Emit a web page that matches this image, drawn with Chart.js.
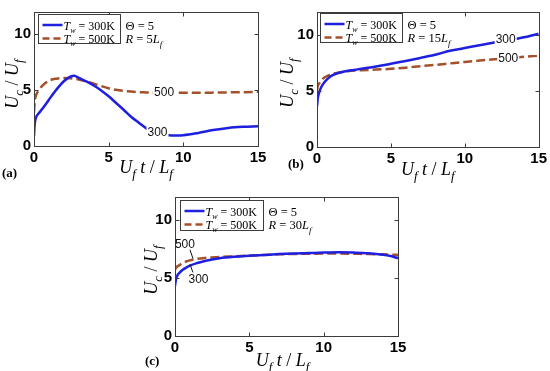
<!DOCTYPE html>
<html><head><meta charset="utf-8">
<script src="https://cdn.jsdelivr.net/npm/chart.js@4"></script>
<style>
html,body{margin:0;padding:0;background:#fff;}
body{width:550px;height:371px;position:relative;overflow:hidden;}
canvas{position:absolute;}
</style></head><body>
<canvas id="ca" width="275" height="185" style="left:0;top:0;width:275px;height:185px"></canvas>
<canvas id="cb" width="275" height="185" style="left:275px;top:0;width:275px;height:185px"></canvas>
<canvas id="cc" width="290" height="186" style="left:130px;top:185px;width:290px;height:186px"></canvas>
<script>
// ---- data ----
const xTicks = [0, 5, 10, 15];
const yTicks = [0, 5, 10];
const seriesNames = ['300K', '500K'];

const xA   = [0,0.05,0.15,0.3,0.6,1,1.5,2,2.4,2.7,3,3.5,4,4.5,5,5.5,6,6.5,7,7.5,8,8.5,9,9.5,10,11,12,13,14,15];
const a300 = [0.9,2.0,2.6,2.9,3.4,4.15,5.05,5.8,6.2,6.3,6.1,5.78,5.42,4.98,4.45,3.85,3.25,2.62,2.1,1.6,1.22,1.05,0.97,0.95,0.97,1.17,1.43,1.62,1.72,1.77];
const a500 = [3.0,4.0,4.6,4.95,5.45,5.85,6.03,6.08,6.07,6.02,5.95,5.78,5.58,5.37,5.17,5.03,4.94,4.87,4.82,4.8,4.78,4.77,4.77,4.77,4.77,4.77,4.78,4.8,4.82,4.85];

const xB   = [0,0.05,0.15,0.3,0.5,0.75,1,1.5,2,2.5,3,4,5,6,7,8,9,10,11,12,13,14,15];
const b300 = [3.6,4.3,4.85,5.35,5.75,6.1,6.35,6.6,6.75,6.85,6.95,7.15,7.4,7.65,7.92,8.2,8.55,8.8,9.05,9.28,9.5,9.75,10.07];
const b500 = [5.0,5.4,5.65,5.95,6.18,6.35,6.48,6.62,6.72,6.8,6.83,6.88,6.95,7.05,7.18,7.3,7.43,7.56,7.68,7.8,7.92,8.02,8.12];

const xC   = [0,0.05,0.15,0.3,0.5,0.75,1,1.5,2,3,4,5,6,7,8,9,10,11,12,13,14,14.5,15];
const c300 = [4.3,4.8,5.2,5.45,5.7,5.9,6.07,6.3,6.48,6.72,6.85,6.93,7.0,7.07,7.12,7.16,7.2,7.22,7.2,7.15,7.02,6.9,6.72];
const c500 = [5.7,5.85,6.0,6.12,6.28,6.43,6.53,6.66,6.74,6.82,6.88,6.95,7.0,7.05,7.08,7.1,7.12,7.12,7.1,7.08,7.05,7.03,7.0];

// ---- styling / helpers ----
const BLUE = '#1f1fe0';
const BROWN = '#a4502a';
const SERIF = "'Liberation Serif','Times New Roman',serif";
const SANS = "'Liberation Sans',Arial,sans-serif";

function rich(ctx, parts, x, y, size, align) {
  const sub = Math.round(size * 0.7);
  const f = p => (p[1].includes('i') ? 'italic ' : '') + (p[1].includes('b') ? 'bold ' : '') + (p[1].includes('s') ? sub : size) + 'px ' + SERIF;
  let w = 0;
  parts.forEach(p => { ctx.font = f(p); w += ctx.measureText(p[0]).width; });
  let cx = align === 'center' ? x - w / 2 : x;
  ctx.textAlign = 'left'; ctx.textBaseline = 'alphabetic'; ctx.fillStyle = '#000';
  parts.forEach(p => {
    ctx.font = f(p);
    ctx.fillText(p[0], cx, y + (p[1].includes('s') ? size * 0.28 : 0));
    cx += ctx.measureText(p[0]).width;
  });
  return w;
}

const decoPlugin = {
  id: 'deco',
  afterDraw(chart, args, o) {
    const ctx = chart.ctx, ca = chart.chartArea, sx = chart.scales.x, sy = chart.scales.y;
    ctx.save();
    const L = Math.round(ca.left) + 0.5, T = Math.round(ca.top) + 0.5, R = Math.round(ca.right) + 0.5, B = Math.round(ca.bottom) + 0.5;
    ctx.strokeStyle = '#3c3c3c'; ctx.lineWidth = 1;
    ctx.strokeRect(L, T, R - L, B - T);
    ctx.beginPath();
    xTicks.forEach(v => { const p = Math.round(sx.getPixelForValue(v)) + 0.5; ctx.moveTo(p, B); ctx.lineTo(p, B - 4); ctx.moveTo(p, T); ctx.lineTo(p, T + 4); });
    yTicks.forEach(v => { const p = Math.round(sy.getPixelForValue(v)) + 0.5; ctx.moveTo(L, p); ctx.lineTo(L + 4, p); ctx.moveTo(R, p); ctx.lineTo(R - 4, p); });
    ctx.stroke();

    // curve labels
    ctx.font = '12px ' + SANS;
    (o.labels || []).forEach(lb => {
      const px = sx.getPixelForValue(lb.x), py = sy.getPixelForValue(lb.y);
      const w = ctx.measureText(lb.t).width;
      if (lb.bg) { ctx.fillStyle = '#fff'; ctx.fillRect(px - w / 2 - 1, py - 6, w + 2, 12); }
      ctx.fillStyle = '#111'; ctx.textAlign = 'center'; ctx.textBaseline = 'middle';
      ctx.fillText(lb.t, px, py);
    });
    (o.leaders || []).forEach(ld => {
      ctx.strokeStyle = '#111'; ctx.lineWidth = 1;
      ctx.beginPath();
      ctx.moveTo(sx.getPixelForValue(ld[0]), sy.getPixelForValue(ld[1]));
      ctx.lineTo(sx.getPixelForValue(ld[2]), sy.getPixelForValue(ld[3]));
      ctx.stroke();
    });

    // legend box
    const lg = o.legend;
    const bx = Math.round(ca.left + lg.dx) + 0.5, by = Math.round(ca.top + lg.dy) + 0.5;
    ctx.fillStyle = '#fff'; ctx.fillRect(bx, by, lg.w, lg.h);
    ctx.strokeStyle = '#3c3c3c'; ctx.lineWidth = 1; ctx.strokeRect(bx, by, lg.w, lg.h);
    const rows = [by + 10.5, by + 24];
    const styles = [{ c: BLUE, d: [] }, { c: BROWN, d: [7, 4] }];
    rows.forEach((ry, i) => {
      ctx.strokeStyle = styles[i].c; ctx.lineWidth = 2.5; ctx.setLineDash(styles[i].d);
      ctx.beginPath(); ctx.moveTo(bx + 4, ry); ctx.lineTo(bx + 24, ry); ctx.stroke();
      ctx.setLineDash([]);
      rich(ctx, [['T', 'i'], ['w', 'is'], [' = ' + seriesNames[i], '']], bx + 25, ry + 4.5, 12, 'left');
    });
    rich(ctx, [['\u0398 = 5', '']], bx + lg.w + 5, rows[0] + 4.5, 12.5, 'left');
    rich(ctx, [['R', 'i'], [' = ' + lg.r, ''], ['L', 'i'], ['f', 'is']], bx + lg.w + 5, rows[1] + 4.5, 12.5, 'left');

    // axis titles
    rich(ctx, [['U', 'i'], ['f', 'is'], [' t', 'i'], [' / ', ''], ['L', 'i'], ['f', 'is']], (ca.left + ca.right) / 2 + o.xtDx, o.xtY, 18, 'center');
    ctx.save();
    ctx.translate(o.ytX, o.ytY);
    ctx.rotate(-Math.PI / 2);
    rich(ctx, [['U', 'i'], ['c', 'is'], [' / ', ''], ['U', 'i'], ['f', 'is']], 0, 0, 18, 'center');
    ctx.restore();

    // panel tag
    rich(ctx, [[o.tag, 'b']], o.tagX, o.tagY, 13, 'left');
    ctx.restore();
  }
};

function makePanel(id, xs, s300, s500, area, deco) {
  const ctx = document.getElementById(id).getContext('2d');
  const W = ctx.canvas.width, H = ctx.canvas.height;
  const YW = 30, XH = 30;
  const tickFont = { family: SANS, weight: 'bold', size: 15 };
  return new Chart(ctx, {
    type: 'line',
    data: {
      datasets: [
        { label: 'Tw = 300K', data: xs.map((x, i) => ({ x, y: s300[i] })), borderColor: BLUE, borderWidth: 2.5, pointRadius: 0, cubicInterpolationMode: 'monotone', fill: false },
        { label: 'Tw = 500K', data: xs.map((x, i) => ({ x, y: s500[i] })), borderColor: BROWN, borderWidth: 2.5, borderDash: [9, 4], pointRadius: 0, cubicInterpolationMode: 'monotone', fill: false }
      ]
    },
    options: {
      responsive: false, animation: false, devicePixelRatio: 1,
      layout: { padding: { left: area.L - YW, top: area.T, right: W - area.R, bottom: H - area.B - XH } },
      plugins: { legend: { display: false }, tooltip: { enabled: false }, deco: deco },
      scales: {
        x: {
          type: 'linear', min: 0, max: 15,
          afterBuildTicks: s => { s.ticks = xTicks.map(v => ({ value: v })); },
          afterFit: s => { s.height = XH; },
          grid: { display: false, drawTicks: false }, border: { display: false },
          ticks: { font: tickFont, color: '#000', padding: 3, maxRotation: 0, autoSkip: false, includeBounds: false }
        },
        y: {
          type: 'linear', min: 0, max: 12,
          afterBuildTicks: s => { s.ticks = yTicks.map(v => ({ value: v })); },
          afterFit: s => { s.width = YW; },
          grid: { display: false, drawTicks: false }, border: { display: false },
          ticks: { font: tickFont, color: '#000', padding: 3, autoSkip: false, includeBounds: false }
        }
      }
    },
    plugins: [decoPlugin]
  });
}

makePanel('ca', xA, a300, a500, { L: 34, T: 2, R: 258, B: 146 }, {
  labels: [{ t: '300', x: 8.27, y: 1.17, bg: true }, { t: '500', x: 8.71, y: 4.75, bg: true }],
  legend: { dx: 4, dy: 2, w: 82, h: 29, r: '5' },
  xtY: 173, xtDx: 0, ytX: 18, ytY: 84, tag: '(a)', tagX: 2, tagY: 177
});
makePanel('cb', xB, b300, b500, { L: 42, T: 3, R: 264, B: 147 }, {
  labels: [{ t: '300', x: 12.77, y: 9.58, bg: true }, { t: '500', x: 12.94, y: 7.83, bg: true }],
  legend: { dx: 3, dy: 1, w: 82, h: 29, r: '15' },
  xtY: 175, xtDx: 0, ytX: 18, ytY: 83, tag: '(b)', tagX: 13, tagY: 168
});
makePanel('cc', xC, c300, c500, { L: 45, T: 9, R: 268, B: 151 }, {
  labels: [{ t: '500', x: 0.67, y: 7.86, bg: false }, { t: '300', x: 1.58, y: 4.9, bg: false }],
  leaders: [[1.01, 7.44, 1.21, 6.68], [1.21, 5.49, 1.01, 6.17]],
  legend: { dx: 5, dy: 3, w: 83, h: 30, r: '30' },
  xtY: 181, xtDx: -4, ytX: 27, ytY: 85, tag: '(c)', tagX: 15, tagY: 180
});
</script>
</body></html>
